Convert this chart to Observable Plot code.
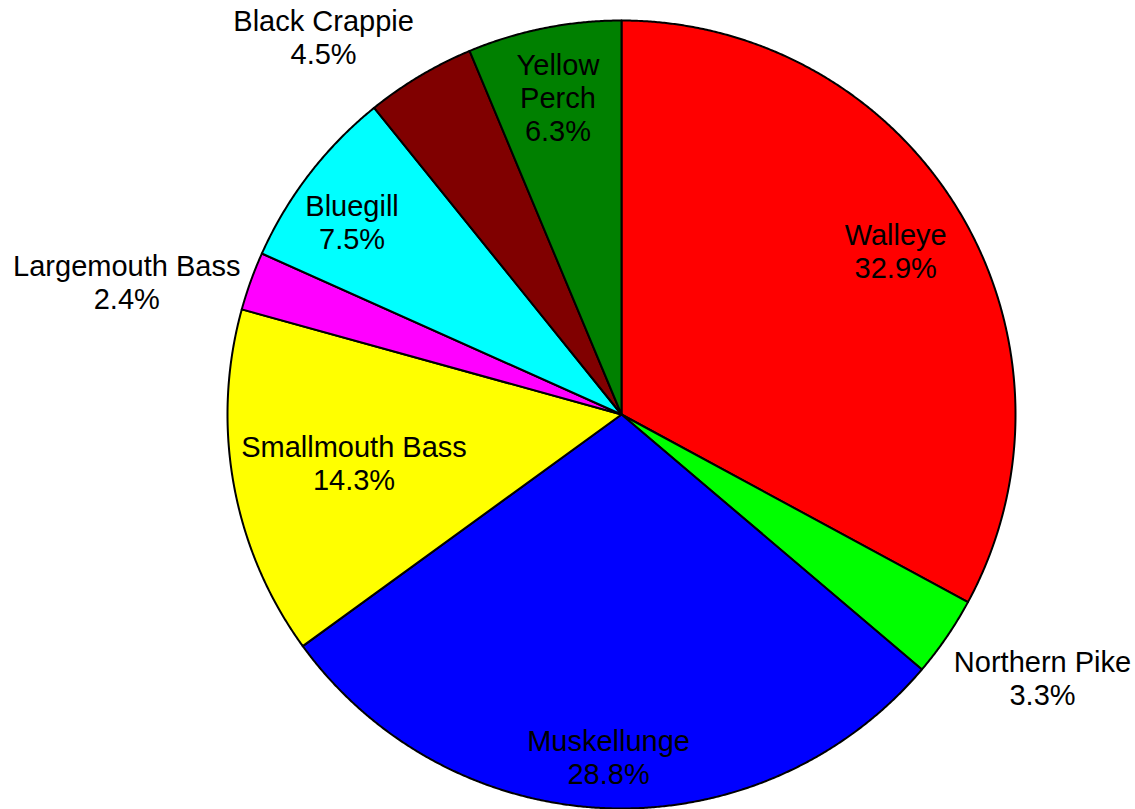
<!DOCTYPE html>
<html>
<head>
<meta charset="utf-8">
<script src="https://cdn.jsdelivr.net/npm/d3@7"></script>
<script src="https://cdn.jsdelivr.net/npm/@observablehq/plot@0.6"></script>
<style>
  html, body { margin: 0; padding: 0; background: #fff; }
  svg { display: block; }
</style>
</head>
<body>
<div id="chart"></div>
<script>
// ---- data ----
const species = ["Walleye", "Northern Pike", "Muskellunge", "Smallmouth Bass",
                 "Largemouth Bass", "Bluegill", "Black Crappie", "Yellow Perch"];
const shares = [32.9, 3.3, 28.8, 14.3, 2.4, 7.5, 4.5, 6.3];
const labelText = ["Walleye", "Northern Pike", "Muskellunge", "Smallmouth Bass",
                   "Largemouth Bass", "Bluegill", "Black Crappie", "Yellow\nPerch"];
const colors = ["#ff0000", "#00ff00", "#0000ff", "#ffff00",
                "#ff00ff", "#00ffff", "#800000", "#008000"];

// ---- label layout (angle override in degrees, radius as fraction of pie radius) ----
const labelLayout = {
  "Walleye":         {angle: null, k: 0.81},
  "Northern Pike":   {angle: 122,  k: 1.26},
  "Muskellunge":     {angle: null, k: 0.87},
  "Smallmouth Bass": {angle: null, k: 0.69},
  "Largemouth Bass": {angle: 285,  k: 1.30},
  "Bluegill":        {angle: 305.5,k: 0.84},
  "Black Crappie":   {angle: 321.7,k: 1.22},
  "Yellow Perch":    {angle: null, k: 0.82}
};

const total = d3.sum(shares);
const rows = species.map((s, i) => ({name: s, value: shares[i], label: labelText[i], color: colors[i]}));
const arcs = d3.pie().value(d => d.value).sort(null)(rows);

// polygon points for each slice (angle measured clockwise from 12 o'clock)
const pts = [];
for (const a of arcs) {
  const name = a.data.name;
  pts.push({name, x: 0, y: 0});
  const n = Math.max(2, Math.ceil((a.endAngle - a.startAngle) / (Math.PI / 720)));
  for (let j = 0; j <= n; j++) {
    const t = a.startAngle + (a.endAngle - a.startAngle) * j / n;
    pts.push({name, x: Math.sin(t), y: Math.cos(t)});
  }
}

const labels = arcs.map(a => {
  const lay = labelLayout[a.data.name];
  const ang = lay.angle != null ? lay.angle * Math.PI / 180 : (a.startAngle + a.endAngle) / 2;
  return {
    x: lay.k * Math.sin(ang),
    y: lay.k * Math.cos(ang),
    text: a.data.label + "\n" + a.data.value.toFixed(1) + "%"
  };
});

const W = 1135, H = 809;
const cx = 621, cy = 414, R = 394;

const chart = Plot.plot({
  width: W,
  height: H,
  margin: 0,
  style: {fontFamily: "'Liberation Sans', Arial, Helvetica, sans-serif", background: "#fff"},
  x: {domain: [-1, 1], range: [cx - R, cx + R], axis: null},
  y: {domain: [-1, 1], range: [cy + R, cy - R], axis: null},
  color: {domain: species, range: colors},
  marks: [
    Plot.line(pts, {
      x: "x", y: "y", z: "name", fill: "name",
      stroke: "black", strokeWidth: 2, strokeLinejoin: "round",
      curve: "linear-closed"
    }),
    Plot.text(labels, {
      x: "x", y: "y", text: "text",
      fontSize: 29, lineHeight: 1.14, fill: "black",
      textAnchor: "middle", lineAnchor: "middle"
    })
  ]
});

document.getElementById("chart").appendChild(chart);
</script>
</body>
</html>
